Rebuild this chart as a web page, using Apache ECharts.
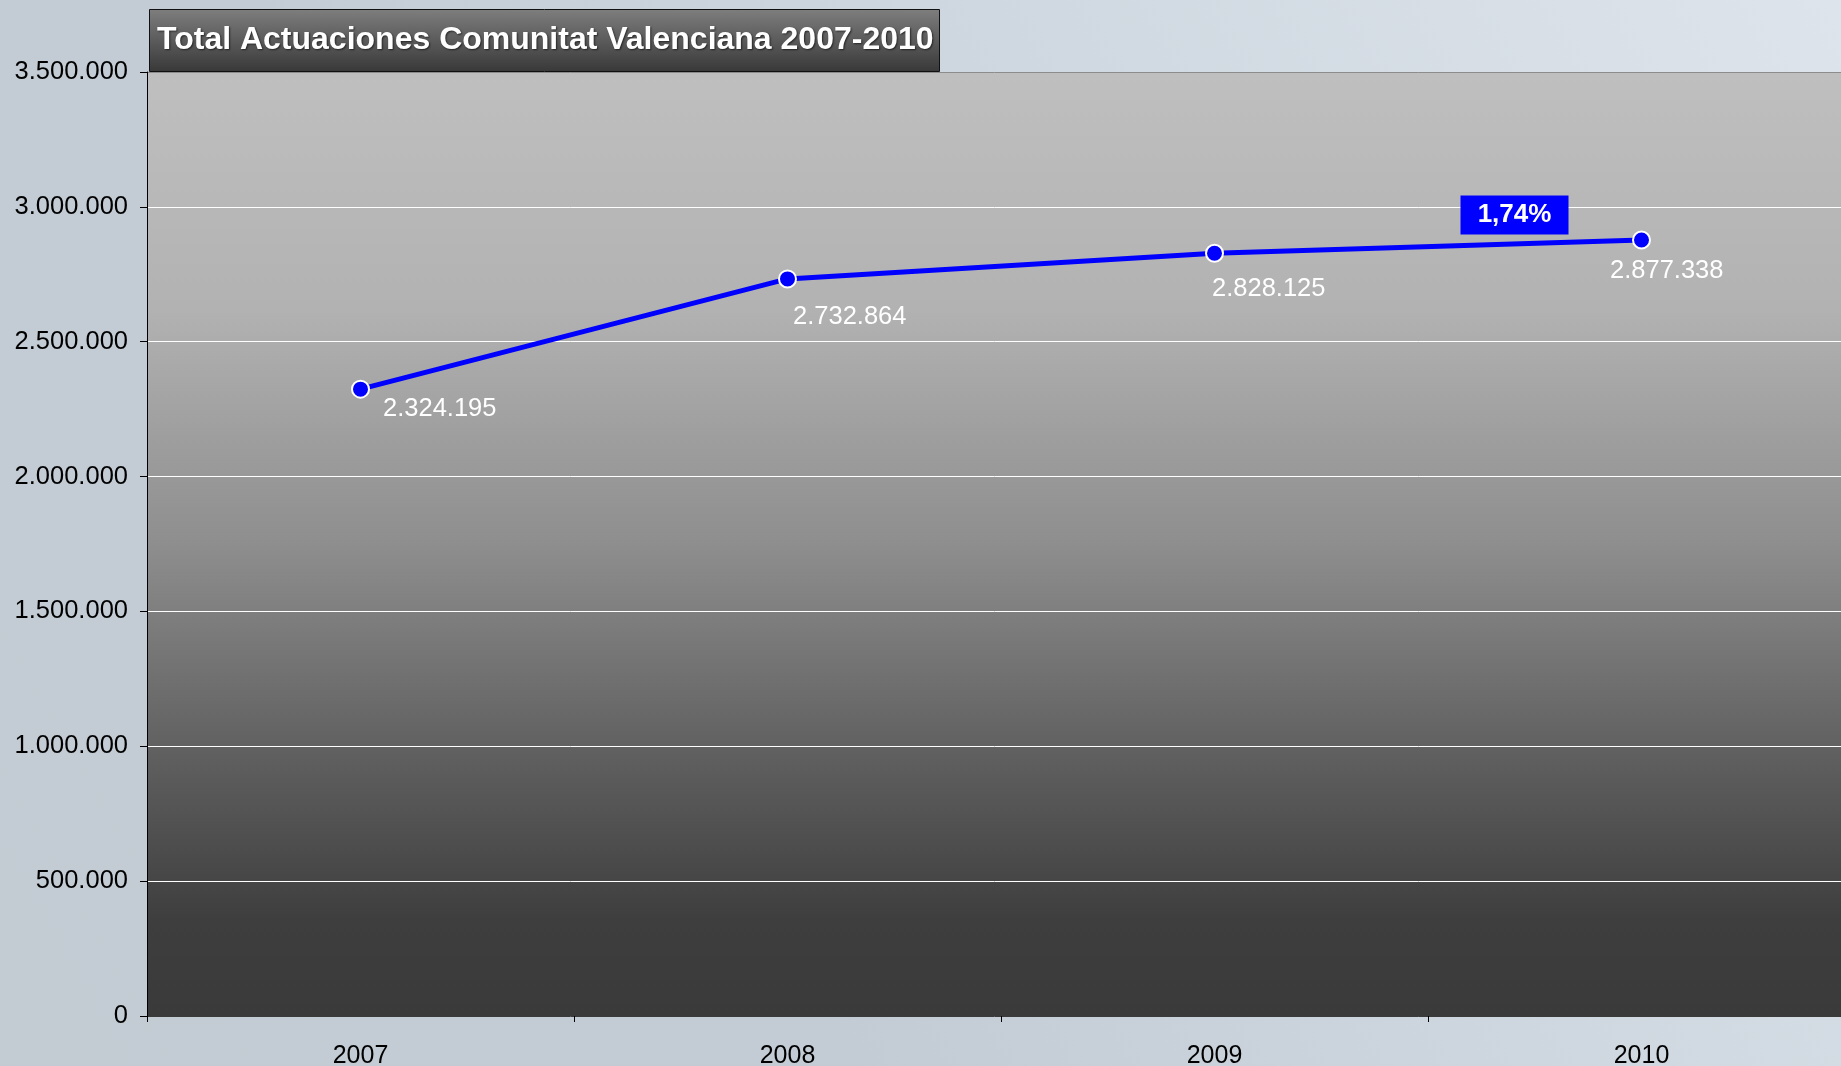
<!DOCTYPE html>
<html>
<head>
<meta charset="utf-8">
<script src="https://cdn.jsdelivr.net/npm/echarts@6/dist/echarts.min.js"></script>
<style>
html,body{margin:0;padding:0;width:1841px;height:1066px;overflow:hidden;}
#chart{width:1841px;height:1066px;}
</style>
</head>
<body>
<div id="chart"></div>
<script>
const titleText = 'Total Actuaciones Comunitat Valenciana 2007-2010';
const years = ['2007', '2008', '2009', '2010'];
const totals = [2324195, 2732864, 2828125, 2877338];
const pctLabel = '1,74%';
const yTicks = { min: 0, max: 3500000, interval: 500000 };

function fmt(v) {
  return String(v).replace(/\B(?=(\d{3})+(?!\d))/g, '.');
}

const labelShifts = [[-2, 20], [-19, 38], [-27, 36], [-56, 31]];

const chart = echarts.init(document.getElementById('chart'));
const font = 'Liberation Sans, Arial, sans-serif';
chart.setOption({
  animation: false,
  backgroundColor: {
    type: 'linear', x: 0, y: 1, x2: 1, y2: 0,
    colorStops: [
      { offset: 0, color: '#c3cbd3' },
      { offset: 0.35, color: '#c3ccd5' },
      { offset: 1, color: '#dde4ec' }
    ]
  },
  title: {
    text: titleText,
    left: 149,
    top: 9,
    padding: [11, 6, 12, 8],
    backgroundColor: {
      type: 'linear', x: 0, y: 0, x2: 0, y2: 1,
      colorStops: [
        { offset: 0, color: '#7e7e7e' },
        { offset: 1, color: '#383838' }
      ]
    },
    borderColor: '#111',
    borderWidth: 1,
    textStyle: {
      color: '#ffffff',
      fontFamily: font,
      fontWeight: 'bold',
      fontSize: 32,
      lineHeight: 40,
      textShadowColor: 'rgba(0,0,0,0.6)',
      textShadowBlur: 2,
      textShadowOffsetX: 1,
      textShadowOffsetY: 1
    }
  },
  grid: {
    left: 147,
    top: 72,
    width: 1708,
    height: 944,
    outerBoundsMode: 'none',
    containLabel: false,
    show: true,
    borderWidth: 0,
    backgroundColor: {
      type: 'linear', x: 0, y: 0, x2: 0, y2: 1,
      colorStops: [
        { offset: 0, color: '#bfbfbf' },
        { offset: 0.25, color: '#b2b2b2' },
        { offset: 0.5, color: '#8e8e8e' },
        { offset: 0.72, color: '#606060' },
        { offset: 0.9, color: '#3e3e3e' },
        { offset: 1, color: '#3a3a3a' }
      ]
    }
  },
  xAxis: {
    type: 'category',
    data: years,
    boundaryGap: true,
    axisLine: { show: true, lineStyle: { color: '#3a3a3a', width: 1 } },
    axisTick: { show: true, length: 6, inside: false, lineStyle: { color: '#000' } },
    axisLabel: { color: '#000', fontFamily: font, fontSize: 25, margin: 28 },
    splitLine: { show: false }
  },
  yAxis: {
    type: 'value',
    min: yTicks.min,
    max: yTicks.max,
    interval: yTicks.interval,
    axisLine: { show: true, lineStyle: { color: '#000', width: 1 } },
    axisTick: { show: true, length: 7, lineStyle: { color: '#000' } },
    axisLabel: { color: '#000', fontFamily: font, fontSize: 25.5, margin: 19, formatter: v => fmt(v) },
    splitLine: {
      show: true,
      lineStyle: {
        width: 1,
        color: ['rgba(0,0,0,0)', '#ffffff', '#ffffff', '#ffffff', '#ffffff', '#ffffff', '#ffffff', '#8c8c8c']
      }
    }
  },
  series: [{
    type: 'line',
    data: totals.map((v, i) => ({
      value: v,
      label: { offset: labelShifts[i] }
    })),
    lineStyle: { color: '#0000ff', width: 5 },
    itemStyle: { color: '#0000ff', borderColor: '#ffffff', borderWidth: 2 },
    symbol: 'circle',
    symbolSize: 17,
    label: {
      show: true,
      position: 'right',
      distance: 15,
      color: '#ffffff',
      fontFamily: font,
      fontSize: 25.5,
      formatter: p => fmt(p.value)
    },
    markPoint: {
      symbol: 'rect',
      symbolSize: [108, 39],
      symbolOffset: [-127, -25],
      itemStyle: { color: '#0000ff' },
      label: {
        show: true,
        position: 'inside',
        color: '#ffffff',
        fontFamily: font,
        fontWeight: 'bold',
        fontSize: 26,
        formatter: () => pctLabel
      },
      data: [{ coord: [years[3], totals[3]] }]
    }
  }]
});
</script>
</body>
</html>
